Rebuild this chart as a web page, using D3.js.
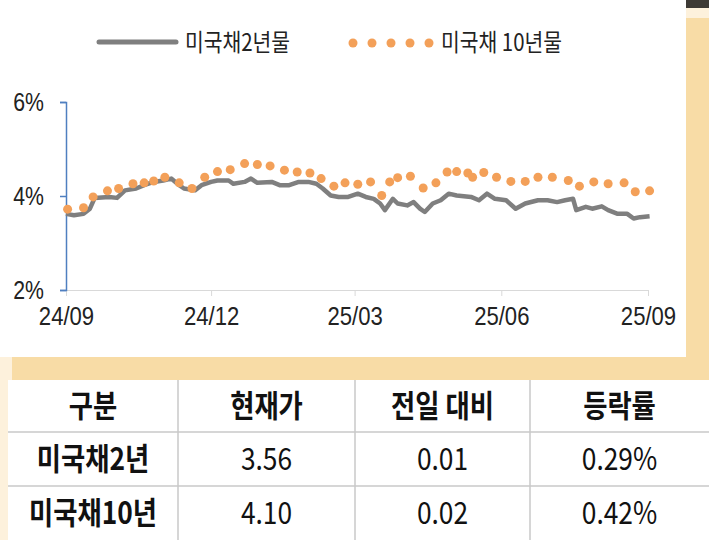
<!DOCTYPE html>
<html>
<head>
<meta charset="utf-8">
<script src="https://cdn.jsdelivr.net/npm/d3@7"></script>
<style>
  body { margin: 0; background: #fff; }
  svg { display: block; font-family: "Noto Sans CJK KR", sans-serif; }
</style>
</head>
<body>
<svg id="chart" width="709" height="540"></svg>
<script>
// days since 2024-09-01
let days2y = [0,5,11,15,18,27,32,37,44,49,55,61,66,71,74,81,85,91,95,102,105,112,116,120,129,134,140,146,152,157,161,166,171,177,183,188,193,197,200,205,208,214,218,222,225,230,235,240,245,254,259,264,269,276,282,288,296,302,308,313,318,320,326,330,336,340,346,352,356,360,366];
let us2y = [3.62,3.59,3.62,3.73,3.96,3.98,3.96,4.12,4.16,4.23,4.30,4.33,4.37,4.23,4.16,4.12,4.23,4.30,4.33,4.33,4.26,4.30,4.37,4.28,4.30,4.23,4.23,4.30,4.30,4.26,4.16,4.01,3.98,3.98,4.05,3.98,3.94,3.84,3.70,3.94,3.84,3.80,3.87,3.73,3.66,3.84,3.91,4.05,4.01,3.98,3.91,4.05,3.94,3.91,3.73,3.84,3.91,3.91,3.87,3.91,3.94,3.70,3.77,3.73,3.78,3.70,3.62,3.62,3.52,3.55,3.57];
let days10y = [1,11,17,26,33,42,49,55,62,71,79,87,95,103,112,120,128,137,145,153,160,168,175,183,191,198,203,208,216,224,232,239,245,252,255,262,270,279,288,296,305,315,322,331,340,350,357,366];
let us10y = [3.72,3.75,3.98,4.11,4.16,4.26,4.28,4.32,4.40,4.28,4.16,4.40,4.52,4.56,4.69,4.67,4.64,4.55,4.51,4.49,4.37,4.21,4.28,4.25,4.30,4.01,4.30,4.39,4.42,4.17,4.28,4.51,4.52,4.49,4.40,4.50,4.40,4.31,4.31,4.40,4.40,4.33,4.21,4.30,4.26,4.28,4.09,4.11];
let yTicks = [2, 4, 6];
let xTickLabels = ["24/09", "24/12", "25/03", "25/06", "25/09"];
let seriesNames = ["미국채2년물", "미국채 10년물"];
let tableHead = ["구분", "현재가", "전일 대비", "등락률"];
let tableRows = [["미국채2년", "3.56", "0.01", "0.29%"], ["미국채10년", "4.10", "0.02", "0.42%"]];

let svg = d3.select("#chart");
let start = new Date(2024, 8, 1);
let toDate = (d) => d3.timeDay.offset(start, d);

// background frame
svg.append("rect").attr("x", 0).attr("y", 0).attr("width", 709).attr("height", 540).attr("fill", "#fdf1dc");
svg.append("rect").attr("x", 12).attr("y", 357).attr("width", 697).attr("height", 30).attr("fill", "#f8dca6");
svg.append("rect").attr("x", 686).attr("y", 18).attr("width", 23).attr("height", 360).attr("fill", "#f8dca6");
svg.append("rect").attr("x", 684).attr("y", 0).attr("width", 25).attr("height", 8).attr("fill", "#3d3a35");
svg.append("rect").attr("x", 0).attr("y", 0).attr("width", 686).attr("height", 357).attr("fill", "#fff");

let xScale = d3.scaleTime().domain([start, new Date(2025, 8, 1)]).range([66, 648]);
let yScale = d3.scaleLinear().domain([2, 6]).range([290, 102]);

// condensed look: scale text horizontally
let narrow = (sel, x) => sel.attr("transform", "scale(0.85,1)").attr("x", x / 0.85);

let xAxis = svg.append("g").attr("transform", "translate(0,290)")
  .call(d3.axisBottom(xScale).tickValues(d3.range(5).map(i => new Date(2024, 8 + i * 3, 1))).tickSize(6).tickFormat((d, i) => xTickLabels[i]));
xAxis.select(".domain").attr("stroke", "#d9d9d9");
xAxis.selectAll(".tick line").attr("stroke", "#d9d9d9");
xAxis.selectAll("text").attr("font-size", 26).attr("fill", "#222").attr("dy", 26)
  .attr("transform", "scale(0.85,1)");

let yAxis = svg.append("g").attr("transform", "translate(66,0)")
  .call(d3.axisLeft(yScale).tickValues(yTicks).tickSize(6).tickFormat(d => d + "%"));
yAxis.select(".domain").attr("stroke", "#4f7fc0").attr("stroke-width", 1.5);
yAxis.selectAll(".tick line").attr("stroke", "#4f7fc0").attr("stroke-width", 1.5);
yAxis.selectAll("text").attr("font-size", 25).attr("fill", "#222").attr("x", -26).attr("dy", "0.35em")
  .attr("transform", "scale(0.85,1)");

let line = d3.line().x((d, i) => xScale(toDate(days2y[i]))).y(d => yScale(d));
svg.append("path").datum(us2y).attr("d", line).attr("fill", "none")
  .attr("stroke", "#7f7f7f").attr("stroke-width", 4.5).attr("stroke-linejoin", "round");

svg.selectAll(".dot").data(us10y).enter().append("circle")
  .attr("cx", (d, i) => xScale(toDate(days10y[i]))).attr("cy", d => yScale(d))
  .attr("r", 4.5).attr("fill", "#f3a059");

// legend
svg.append("line").attr("x1", 99).attr("x2", 176).attr("y1", 42).attr("y2", 42)
  .attr("stroke", "#7f7f7f").attr("stroke-width", 5).attr("stroke-linecap", "round");
narrow(svg.append("text"), 185).attr("y", 51).attr("font-size", 24).attr("fill", "#222").text(seriesNames[0]);
svg.selectAll(".ldot").data(d3.range(5)).enter().append("circle")
  .attr("cx", d => 353 + d * 19).attr("cy", 43).attr("r", 4.5).attr("fill", "#f3a059");
narrow(svg.append("text"), 441).attr("y", 51).attr("font-size", 24).attr("fill", "#222").text(seriesNames[1]);

// table
let colEdges = [8, 178, 355, 530, 709];
let rowEdges = [380, 432, 486, 540];
svg.append("rect").attr("x", 8).attr("y", 380).attr("width", 701).attr("height", 160).attr("fill", "#fff");
colEdges.slice(1, 4).forEach(x => svg.append("line").attr("x1", x).attr("x2", x).attr("y1", 380).attr("y2", 540).attr("stroke", "#c8c8c8").attr("stroke-width", 1.5));
rowEdges.slice(1, 3).forEach(y => svg.append("line").attr("x1", 8).attr("x2", 709).attr("y1", y).attr("y2", y).attr("stroke", "#c8c8c8").attr("stroke-width", 1.5));
let cells = [tableHead].concat(tableRows);
cells.forEach((row, r) => row.forEach((t, c) => {
  narrow(svg.append("text"), (colEdges[c] + colEdges[c + 1]) / 2).attr("y", (rowEdges[r] + rowEdges[r + 1]) / 2)
    .attr("dy", "0.36em").attr("text-anchor", "middle")
    .attr("font-size", 31).attr("font-weight", (r === 0 || c === 0) ? "bold" : "normal")
    .attr("fill", "#111").text(t);
}));
</script>
</body>
</html>
